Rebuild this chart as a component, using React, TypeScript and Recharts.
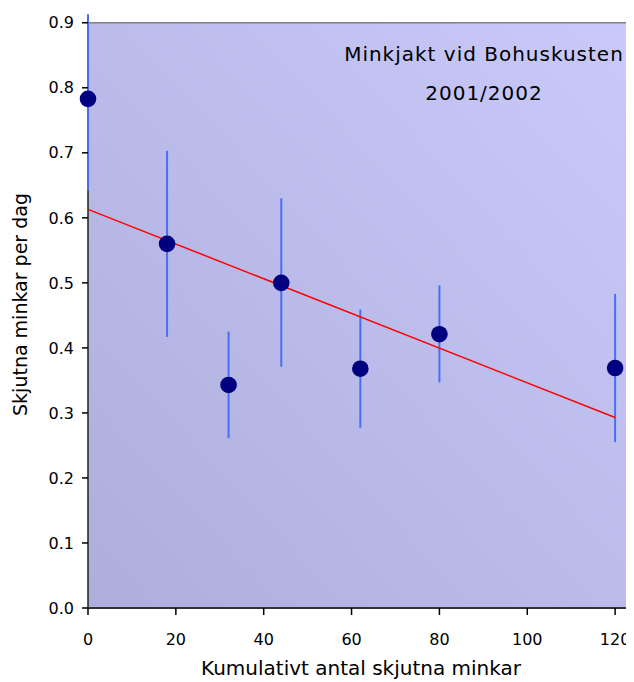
import React from 'react';
import {
  ComposedChart,
  Scatter,
  Line,
  XAxis,
  YAxis,
  ErrorBar,
  ReferenceLine,
  ReferenceArea,
} from 'recharts';

// Cumulative number of minks shot vs. minks shot per day
const shotCumulative = [0, 18, 32, 44, 62, 80, 120];
const shotPerDay = [0.783, 0.56, 0.343, 0.5, 0.368, 0.421, 0.369];
const errMinus = [0.141, 0.143, 0.082, 0.129, 0.091, 0.074, 0.114];
const errPlus = [0.13, 0.143, 0.082, 0.13, 0.091, 0.075, 0.114];

// Fitted trend line end points
const trendX = [0, 120];
const trendY = [0.613, 0.293];

const xTicks = [0, 20, 40, 60, 80, 100, 120];
const yTicks = [0, 0.1, 0.2, 0.3, 0.4, 0.5, 0.6, 0.7, 0.8, 0.9];

const titleLines = ['Minkjakt vid Bohuskusten', '2001/2002'];
const xTitle = 'Kumulativt antal skjutna minkar';
const yTitle = 'Skjutna minkar per dag';

const points = shotCumulative.map((x, i) => ({
  x,
  y: shotPerDay[i],
  err: [errMinus[i], errPlus[i]],
}));
const trend = trendX.map((x, i) => ({ x, t: trendY[i] }));

const FONT = '"DejaVu Sans", sans-serif';
const W = 634;
const H = 674;
const X_MAX = 124.3;
const Y_TOP = 0.9;

const Dot = (props: any) => (
  <circle cx={props.cx} cy={props.cy} r={8.3} fill="#000080" />
);

const YTitle = (props: any) => {
  const vb = props.viewBox || {};
  const cx = vb.x - 8;
  const cy = vb.y + vb.height / 2 - 6;
  return (
    <text
      x={cx}
      y={cy}
      transform={`rotate(-90 ${cx} ${cy})`}
      textAnchor="middle"
      dominantBaseline="central"
      fontFamily={FONT}
      fontSize={19}
      fill="#000"
    >
      {yTitle}
    </text>
  );
};

export default function App() {
  return (
    <div style={{ position: 'relative', width: W, height: H }}>
      <ComposedChart
        width={W}
        height={H}
        margin={{ top: 5, right: 8, bottom: 0, left: 20 }}
      >
        <defs>
          <linearGradient id="plotBg" x1="0" y1="1" x2="1" y2="0">
            <stop offset="0%" stopColor="#aeaedd" />
            <stop offset="100%" stopColor="#cacafa" />
          </linearGradient>
        </defs>
        <ReferenceArea
          x1={0}
          x2={X_MAX}
          y1={0}
          y2={Y_TOP}
          fill="url(#plotBg)"
          fillOpacity={1}
          stroke="none"
        />
        <ReferenceLine y={Y_TOP} stroke="#808080" strokeWidth={1.5} />
        <ReferenceLine
          segment={[
            { x: 0, y: 0 },
            { x: 0, y: Y_TOP },
          ]}
          stroke="#222"
          strokeWidth={1.5}
        />
        <XAxis
          type="number"
          dataKey="x"
          domain={[0, X_MAX]}
          ticks={xTicks}
          height={74}
          tickSize={7}
          tickMargin={19}
          axisLine={{ stroke: '#333', strokeWidth: 2 }}
          tickLine={{ stroke: '#000', strokeWidth: 1.5 }}
          tick={{ fill: '#000', fontSize: 16, fontFamily: FONT }}
          label={{
            value: xTitle,
            position: 'insideBottom',
            offset: 7,
            fill: '#000',
            fontSize: 20,
            fontFamily: FONT,
          }}
        />
        <YAxis
          type="number"
          dataKey="y"
          domain={[0, 0.915]}
          allowDataOverflow
          ticks={yTicks}
          width={60}
          tickSize={6}
          tickMargin={8}
          tickFormatter={(v: number) => v.toFixed(1)}
          axisLine={false}
          tickLine={{ stroke: '#000', strokeWidth: 1.5 }}
          tick={{ fill: '#000', fontSize: 16, fontFamily: FONT }}
          label={<YTitle />}
        />
        <Scatter
          data={points}
          dataKey="y"
          shape={Dot}
          isAnimationActive={false}
        >
          <ErrorBar
            dataKey="err"
            direction="y"
            width={0}
            stroke="#4a6ef2"
            strokeWidth={2}
            isAnimationActive={false}
          />
        </Scatter>
        <Line
          data={trend}
          dataKey="t"
          type="linear"
          stroke="#ff0000"
          strokeWidth={1.5}
          dot={false}
          activeDot={false}
          isAnimationActive={false}
        />
      </ComposedChart>
      <div
        style={{
          position: 'absolute',
          left: 326,
          top: 27,
          width: 300,
          textAlign: 'center',
          fontFamily: FONT,
          fontSize: 20,
          letterSpacing: '1px',
          lineHeight: '39px',
          color: '#000',
        }}
      >
        {titleLines.map((t) => (
          <div key={t}>{t}</div>
        ))}
      </div>
    </div>
  );
}
